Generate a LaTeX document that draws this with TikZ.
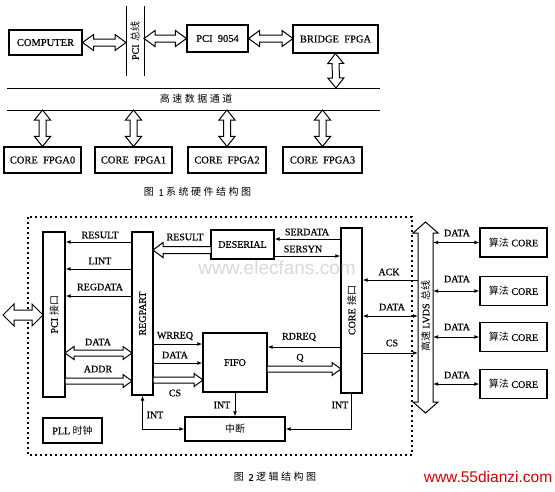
\documentclass[tikz,border=0pt]{standalone}
\usepackage{fontspec}
\setmainfont{Liberation Serif}[FakeBold=0.5]
\newfontfamily\cjk{Noto Sans CJK SC}
\newfontfamily\cjkcap[LetterSpace=25]{Noto Sans CJK SC}
\newfontfamily\wmfont{Liberation Sans}
\usetikzlibrary{arrows.meta,calc}
\newcommand\zh[1]{{\cjk #1}}
\tikzset{
  box/.style={draw, line width=1.1pt, fill=white, inner sep=0pt, font=\fontsize{10}{12}\selectfont},
  bigbox/.style={box, font=\fontsize{10.5}{12}\selectfont},
  lab/.style={font=\fontsize{10}{12}\selectfont, inner sep=0.5pt},
  ln/.style={line width=1pt},
  tip/.style={ln, -{Latex[length=5pt,width=3.8pt]}},
  dtip/.style={ln, {Latex[length=5pt,width=3.8pt]}-{Latex[length=5pt,width=3.8pt]}},
  hollow/.style n args={3}{line width=1pt, fill=white, to path={
    let \p1=(\tikztostart), \p2=(\tikztotarget),
        \n1={veclen(\x2-\x1,\y2-\y1)}, \n2={(\x2-\x1)/\n1}, \n3={(\y2-\y1)/\n1} in
    ({\x1-(#1)*\n3},{\y1+(#1)*\n2})
    -- ({\x1+(\n1-#3)*\n2-(#1)*\n3},{\y1+(\n1-#3)*\n3+(#1)*\n2})
    -- ({\x1+(\n1-#3)*\n2-(#2)*\n3},{\y1+(\n1-#3)*\n3+(#2)*\n2})
    -- (\p2)
    -- ({\x1+(\n1-#3)*\n2+(#2)*\n3},{\y1+(\n1-#3)*\n3-(#2)*\n2})
    -- ({\x1+(\n1-#3)*\n2+(#1)*\n3},{\y1+(\n1-#3)*\n3-(#1)*\n2})
    -- ({\x1+(#1)*\n3},{\y1-(#1)*\n2}) -- cycle}},
  dhollow/.style n args={3}{line width=1pt, fill=white, to path={
    let \p1=(\tikztostart), \p2=(\tikztotarget),
        \n1={veclen(\x2-\x1,\y2-\y1)}, \n2={(\x2-\x1)/\n1}, \n3={(\y2-\y1)/\n1} in
    (\p1)
    -- ({\x1+(#3)*\n2-(#2)*\n3},{\y1+(#3)*\n3+(#2)*\n2})
    -- ({\x1+(#3)*\n2-(#1)*\n3},{\y1+(#3)*\n3+(#1)*\n2})
    -- ({\x1+(\n1-#3)*\n2-(#1)*\n3},{\y1+(\n1-#3)*\n3+(#1)*\n2})
    -- ({\x1+(\n1-#3)*\n2-(#2)*\n3},{\y1+(\n1-#3)*\n3+(#2)*\n2})
    -- (\p2)
    -- ({\x1+(\n1-#3)*\n2+(#2)*\n3},{\y1+(\n1-#3)*\n3-(#2)*\n2})
    -- ({\x1+(\n1-#3)*\n2+(#1)*\n3},{\y1+(\n1-#3)*\n3-(#1)*\n2})
    -- ({\x1+(#3)*\n2+(#1)*\n3},{\y1+(#3)*\n3-(#1)*\n2})
    -- ({\x1+(#3)*\n2+(#2)*\n3},{\y1+(#3)*\n3-(#2)*\n2}) -- cycle}},
}
\begin{document}
\begin{tikzpicture}[x=1pt,y=-1pt]
\useasboundingbox[fill=white] (0,0) rectangle (555,491);

% ---------------- Figure 1 ----------------
\node[bigbox, minimum width=73, minimum height=25] (comp) at (45.5,42.5) {COMPUTER};
\node[bigbox, minimum width=61, minimum height=27] (p9054) at (217.5,38.5) {PCI\ \ 9054};
\node[bigbox, minimum width=85, minimum height=28] (bridge) at (335.5,39) {BRIDGE\ \ FPGA};
\coordinate (busLt) at (126,6);  \coordinate (busLb) at (126,76);
\coordinate (busRt) at (144,6);  \coordinate (busRb) at (144,76);
\draw[ln] (busLt) -- (busLb);
\draw[ln] (busRt) -- (busRb);
\node[lab, rotate=90] (pcibus) at (135,41) {PCI \zh{总线}};
\coordinate (busLa) at (126,42.5);
\coordinate (busRa) at (144,38.5);
\coordinate (brW) at (293,38.5);
\draw[dhollow={3.5}{8}{11}] (comp.east) to (busLa);
\draw[dhollow={3.5}{8}{11}] (busRa) to (p9054.west);
\draw[dhollow={3.5}{8}{11}] (p9054.east) to (brW);

\coordinate (chTl) at (7,88);  \coordinate (chTr) at (380,88);
\coordinate (chBl) at (7,110); \coordinate (chBr) at (380,110);
\draw[ln] (chTl) -- (chTr);
\draw[ln] (chBl) -- (chBr);
\node[lab] (chan) at (196,99) {\cjkcap 高速数据通道};
\coordinate (brS) at (336,88);
\draw[dhollow={3.5}{8}{10}] (bridge.south) to (brS);

\node[bigbox, minimum width=77, minimum height=26] (cf0) at (42.5,160) {CORE\ \ FPGA0};
\node[bigbox, minimum width=77, minimum height=26] (cf1) at (133.5,160) {CORE\ \ FPGA1};
\node[bigbox, minimum width=78, minimum height=26] (cf2) at (227,160) {CORE\ \ FPGA2};
\node[bigbox, minimum width=79, minimum height=26] (cf3) at (322.5,160) {CORE\ \ FPGA3};
\foreach \cf in {cf0,cf1,cf2,cf3}{
  \draw[dhollow={3.5}{8}{10}] (\cf.north |- chBl) to (\cf.north);
}
\node[lab] (cap1) at (197.5,192) {\cjkcap 图 \rmfamily 1 \cjkcap 系统硬件结构图};

% ---------------- Figure 2 ----------------
\draw[line width=1.2pt, dash pattern=on 2pt off 3pt] (28,217) rectangle (412,455);

\node[box, minimum width=22, minimum height=165] (pcii) at (54,314.5) {};
\node[lab, rotate=90] at (pcii) {PCI \zh{接口}};
\node[box, minimum width=21, minimum height=163] (regpart) at (142.5,313.5) {};
\node[lab, rotate=90] at (regpart) {REGPART};
\node[box, minimum width=63, minimum height=29] (deser) at (242.5,244.5) {DESERIAL};
\node[box, minimum width=21, minimum height=165] (corei) at (351.5,310.5) {};
\node[lab, rotate=90] at (corei) {CORE \zh{接口}};
\node[box, minimum width=64, minimum height=59] (fifo) at (235,362.5) {FIFO};
\node[box, minimum width=100, minimum height=24] (zd) at (235,429) {\zh{中断}};
\node[box, minimum width=59, minimum height=25] (pll) at (72.5,430.5) {PLL \zh{时钟}};

% LVDS bus
\coordinate (lvdsT) at (425.5,222);
\coordinate (lvdsB) at (425.5,413);
\draw[dhollow={7.5}{12.5}{11}] (lvdsT) to (lvdsB);
\node[lab, rotate=90] (lvds) at (425.5,316) {\zh{高速} LVDS \zh{总线}};
\coordinate (busW) at (418,0);
\coordinate (busE) at (433,0);

% algorithm cores
\node[box, minimum width=67, minimum height=29] (ac1) at (513.5,242.5) {\zh{算法} CORE};
\node[box, minimum width=67, minimum height=29] (ac2) at (513.5,291) {\zh{算法} CORE};
\node[box, minimum width=67, minimum height=29] (ac3) at (513.5,337) {\zh{算法} CORE};
\node[box, minimum width=67, minimum height=29] (ac4) at (513.5,384) {\zh{算法} CORE};
\draw[dtip] (busE |- ac1.west) -- (ac1.west);
\draw[dtip] (busE |- ac2.west) -- (ac2.west);
\draw[dtip] (busE |- ac3.west) -- (ac3.west);
\draw[dtip] (busE |- ac4.west) -- (ac4.west);
\node[lab] at (457,233) {DATA};
\node[lab] at (457,279) {DATA};
\node[lab] at (457,327) {DATA};
\node[lab] at (457,375) {DATA};

% PCI <-> REGPART
\draw[tip] (regpart.west |- 0,242) -- (pcii.east |- 0,242);
\node[lab] at (100,235) {RESULT};
\draw[tip] (regpart.west |- 0,269) -- (pcii.east |- 0,269);
\node[lab] at (100,261) {LINT};
\draw[tip] (regpart.west |- 0,296) -- (pcii.east |- 0,296);
\node[lab] at (100,287) {REGDATA};
\coordinate (dL) at (65,353);   \coordinate (dR) at (132,353);
\draw[dhollow={3}{6.5}{9}] (dL) to (dR);
\node[lab] at (98,342) {DATA};
\coordinate (aL) at (65,381);   \coordinate (aR) at (132,381);
\draw[hollow={3}{6.5}{9}] (aL) to (aR);
\node[lab] at (98,369) {ADDR};
\coordinate (extL) at (3,315);  \coordinate (extR) at (43,315);
\draw[dhollow={5}{11}{11}] (extL) to (extR);

% DESERIAL
\coordinate (resA) at (211,250); \coordinate (resB) at (153,250);
\draw[hollow={3.5}{7.5}{10}] (resA) to (resB);
\node[lab] at (185,237) {RESULT};
\draw[tip] (corei.west |- 0,239) -- (deser.east |- 0,239);
\node[lab] at (307,232) {SERDATA};
\draw[tip] (deser.east |- 0,256) -- (corei.west |- 0,256);
\node[lab] at (303,249) {SERSYN};

% REGPART -> FIFO
\draw[tip] (regpart.east |- 0,344) -- (fifo.west |- 0,344);
\node[lab] at (175,336) {WRREQ};
\draw[tip] (regpart.east |- 0,363) -- (fifo.west |- 0,363);
\node[lab] at (175,355) {DATA};
\coordinate (csA) at (153,380); \coordinate (csB) at (203,380);
\draw[hollow={3}{6.5}{9}] (csA) to (csB);
\node[lab] at (175,393) {CS};

% CORE <-> FIFO
\draw[tip] (corei.west |- 0,347) -- (fifo.east |- 0,347);
\node[lab] at (299,337) {RDREQ};
\coordinate (qA) at (267,369); \coordinate (qB) at (341,369);
\draw[hollow={3}{6.5}{9}] (qA) to (qB);
\node[lab] at (300,358) {Q};

% CORE <-> LVDS
\draw[tip] (busW |- 0,280) -- (corei.east |- 0,280);
\node[lab] at (389,272) {ACK};
\draw[dtip] (corei.east |- 0,316) -- (busW |- 0,316);
\node[lab] at (392,307) {DATA};
\draw[tip] (corei.east |- 0,353) -- (busW |- 0,353);
\node[lab] at (392,343) {CS};

% interrupts
\draw[tip] (fifo.south) -- (zd.north);
\node[lab] at (222,405) {INT};
\draw[dtip] (regpart.south) -- (regpart.south |- zd.west) -- (zd.west);
\node[lab] at (155,415) {INT};
\draw[tip] (corei.south) -- (corei.south |- zd.east) -- (zd.east);
\node[lab] at (340,405) {INT};

\node[lab] (cap2) at (275,477) {\cjkcap 图 \rmfamily 2 \cjkcap 逻辑结构图};

% watermarks
\node[text=red!85!black, font=\wmfont\fontsize{15.5}{16}\selectfont, inner sep=0pt] (wm1) at (488,477) {www.55dianzi.com};
\node[text=gray, opacity=0.3, font=\wmfont\fontsize{19}{20}\selectfont, inner sep=0pt] (wm2) at (277,268) {www.elecfans.com};
\end{tikzpicture}
\end{document}
